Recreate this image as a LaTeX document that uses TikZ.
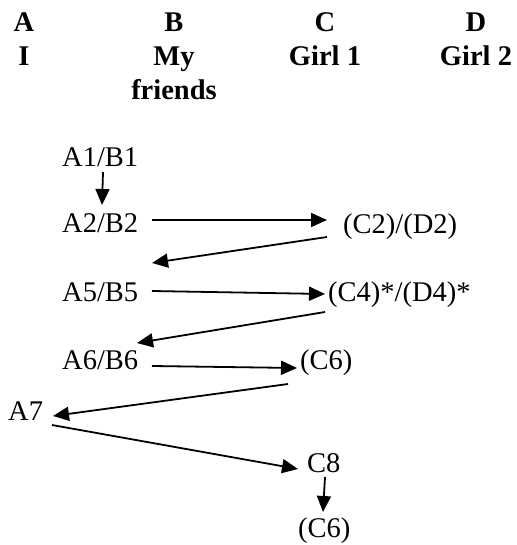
\documentclass[tikz,border=0pt]{standalone}
\usepackage{fontspec}
\setmainfont{Liberation Serif}
\usetikzlibrary{arrows.meta}

\tikzset{
  head/.style={anchor=base, inner sep=0pt, font=\fontsize{28.5}{33}\selectfont\bfseries},
  item/.style={anchor=base west, inner sep=0pt, font=\fontsize{28.5}{33}\selectfont},
  arr/.style={line width=1.8pt, -{Triangle[length=16pt, width=14pt]}}
}

\begin{document}
\begin{tikzpicture}[x=1pt, y=-1pt]
  \useasboundingbox (0,0) rectangle (516,545);

  % column headings
  \node[head] (hA)  at (24,32)  {A};
  \node[head] (hA2) at (24,66)  {I};
  \node[head] (hB)  at (174,32) {B};
  \node[head] (hB2) at (174,66) {My};
  \node[head] (hB3) at (174,100) {friends};
  \node[head] (hC)  at (325,32) {C};
  \node[head] (hC2) at (325,66) {Girl 1};
  \node[head] (hD)  at (476,32) {D};
  \node[head] (hD2) at (476,66) {Girl 2};

  % sequence entries
  \node[item] (a1)  at (62,167)  {A1/B1};
  \node[item] (a2)  at (62,232)  {A2/B2};
  \node[item] (c2)  at (343,233) {(C2)/(D2)};
  \node[item] (a5)  at (62,301)  {A5/B5};
  \node[item] (c4)  at (328,301) {(C4)*/(D4)*};
  \node[item] (a6)  at (62,369)  {A6/B6};
  \node[item] (c6)  at (300,369) {(C6)};
  \node[item] (a7)  at (8,420)   {A7};
  \node[item] (c8)  at (307,472) {C8};
  \node[item] (c6b) at (298,537) {(C6)};

  % arrows between entries
  \draw[arr] ([shift={(41,5)}]a1.base west) -- ([shift={(40,-27)}]a2.base west);
  \draw[arr] ([shift={(90,-12)}]a2.base west) -- ([shift={(-16,-13)}]c2.base west);
  \draw[arr] ([shift={(-16,4)}]c2.base west) -- ([shift={(90,-38)}]a5.base west);
  \draw[arr] ([shift={(90,-10)}]a5.base west) -- ([shift={(-3,-7)}]c4.base west);
  \draw[arr] ([shift={(-3,11)}]c4.base west) -- ([shift={(75,-26)}]a6.base west);
  \draw[arr] ([shift={(90,-3)}]a6.base west) -- ([shift={(-3,-1)}]c6.base west);
  \draw[arr] ([shift={(-12,15)}]c6.base west) -- ([shift={(45,-4)}]a7.base west);
  \draw[arr] ([shift={(44,5)}]a7.base west) -- ([shift={(-9,-3)}]c8.base west);
  \draw[arr] ([shift={(18,5)}]c8.base west) -- ([shift={(25,-25)}]c6b.base west);
\end{tikzpicture}
\end{document}
